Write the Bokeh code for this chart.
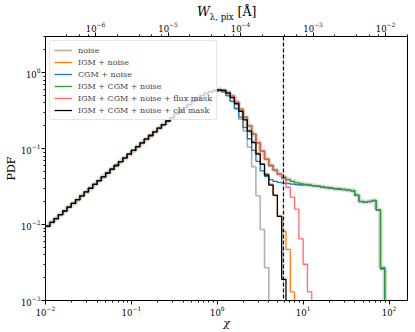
import numpy as np
from bokeh.plotting import figure
from bokeh.layouts import column
from bokeh.models import Range1d, LogScale, LogAxis, Span, Legend, LegendItem, Div
from bokeh.embed import file_html
from bokeh.resources import INLINE

# ---------------- data ----------------
bin_start_dex = -2.0      # first bin edge, log10(chi)
bin_width_dex = 0.05      # bin width in dex
chi_cut = 5.9             # dashed line (chi mask threshold)
x_lo, x_hi = 0.01, 164.0
y_lo, y_hi = 1e-3, 3.0
w_lo, w_hi = 2.04e-7, 2.01e-2   # top axis W_lambda,pix range [A]
floor = 1e-6

# shared rising part (bins k = 0 .. 33)
rise = [0.0095, 0.0107, 0.0120, 0.0135, 0.0151, 0.0170, 0.0190, 0.0213, 0.0239, 0.0269,
        0.0301, 0.0338, 0.0379, 0.0426, 0.0478, 0.0535, 0.0600, 0.0673, 0.0755, 0.0846,
        0.0948, 0.1063, 0.1190, 0.1331, 0.1490, 0.1666, 0.1860, 0.2075, 0.2312, 0.2570,
        0.2850, 0.3152, 0.3473, 0.3808]

peak_igm = [0.42, 0.46, 0.50, 0.535, 0.565, 0.585, 0.595, 0.585]
peak_cgm = [0.42, 0.46, 0.50, 0.53, 0.555, 0.57, 0.575, 0.56]

noise_tail = [0.50, 0.42, 0.33, 0.245, 0.17, 0.105, 0.058, 0.024, 0.0086, 0.0027]
igm_tail = [0.545, 0.48, 0.40, 0.32, 0.245, 0.175, 0.125, 0.088, 0.064, 0.047, 0.034,
            0.024, 0.013, 0.0082, 0.0047, 0.0013]
cgm_tail = [0.50, 0.42, 0.34, 0.26, 0.19, 0.135, 0.095, 0.068, 0.051, 0.043, 0.039, 0.037,
            0.036, 0.0352, 0.0346, 0.034, 0.0336, 0.0332,
            0.0334, 0.0329, 0.0323, 0.0318, 0.0312, 0.0306, 0.0301, 0.0296, 0.0292, 0.0288,
            0.0284, 0.0278, 0.0243, 0.0200, 0.0196, 0.0200, 0.0206, 0.0155, 0.0026]
both_tail = [0.55, 0.49, 0.41, 0.33, 0.26, 0.20, 0.155, 0.12, 0.093, 0.073, 0.06, 0.052,
             0.046, 0.042, 0.039, 0.037, 0.0355, 0.0345,
             0.0338, 0.0332, 0.0326, 0.0320, 0.0314, 0.0308, 0.0303, 0.0298, 0.0294, 0.0290,
             0.0286, 0.0280, 0.0245, 0.0202, 0.0198, 0.0202, 0.0208, 0.0157, 0.0027]
flux_tail = [0.55, 0.49, 0.41, 0.33, 0.26, 0.20, 0.155, 0.12, 0.093, 0.073, 0.06, 0.052,
             0.046, 0.040, 0.031, 0.023, 0.016, 0.0065, 0.003, 0.0013]
chi_tail = [0.54, 0.47, 0.39, 0.31, 0.24, 0.17, 0.12, 0.085, 0.062, 0.045, 0.033, 0.0245,
            0.0128, 0.0019]

labels = ["noise", "IGM + noise", "CGM + noise", "IGM + CGM + noise",
          "IGM + CGM + noise + flux mask", "IGM + CGM + noise + chi mask"]
colors = ["#a8a8a8", "#ff7f0e", "#1f77b4", "#2ca02c", "#ff4d4d", "#000000"]

series = [rise + peak_cgm + noise_tail + [floor],
          rise + peak_igm + igm_tail + [floor],
          rise + peak_cgm + cgm_tail + [floor],
          rise + peak_igm + both_tail + [floor],
          rise + peak_igm + flux_tail + [floor],
          rise + peak_igm + chi_tail + [floor]]

# ---------------- figure ----------------
FONT = "DejaVu Serif"
p = figure(width=412, height=332, x_axis_type="log", y_axis_type="log",
           x_range=Range1d(x_lo, x_hi), y_range=Range1d(y_lo, y_hi),
           output_backend="svg", toolbar_location=None,
           min_border_left=45, min_border_right=5, min_border_top=36, min_border_bottom=0)
p.xgrid.visible = False
p.ygrid.visible = False
p.outline_line_color = "black"
p.outline_line_width = 1
p.background_fill_color = "white"
p.border_fill_alpha = 0.0

p.extra_x_ranges = {"W": Range1d(w_lo, w_hi)}
p.extra_x_scales = {"W": LogScale()}
top = LogAxis(x_range_name="W")
p.add_layout(top, "above")

bottom = p.below[0]
left = p.left[0]
bottom.axis_label = "χ"
bottom.axis_label_text_font_style = "italic"
left.axis_label = "PDF"
left.axis_label_text_font_style = "normal"

for ax in [bottom, left, top]:
    ax.major_tick_out = 4
    ax.major_tick_in = 0
    ax.minor_tick_out = 2
    ax.minor_tick_in = 0
    ax.axis_line_color = "black"
    ax.major_tick_line_color = "black"
    ax.minor_tick_line_color = "black"
    ax.major_label_text_font = FONT
    ax.major_label_text_font_size = "8.5px"
    ax.major_label_text_color = "black"
    ax.major_label_standoff = 1
    ax.axis_label_text_font = FONT
    ax.axis_label_text_font_size = "11px"
    ax.axis_label_text_color = "black"
    ax.axis_label_standoff = 0
bottom.axis_label_standoff = -2

# thick gray halo under the IGM + CGM + noise curve
n = len(series[3])
edges = 10 ** (bin_start_dex + bin_width_dex * np.arange(n))
p.step(edges, series[3], mode="after", line_color="#999999", line_alpha=0.4, line_width=4.5)

items = []
widths = [1.6, 1.3, 1.3, 1.3, 1.3, 1.3]
alphas = [0.9, 1.0, 1.0, 1.0, 0.85, 1.0]
for lab, col, vals, lw, la in zip(labels, colors, series, widths, alphas):
    x = 10 ** (bin_start_dex + bin_width_dex * np.arange(len(vals)))
    r = p.step(x, vals, mode="after", line_color=col, line_width=lw, line_alpha=la)
    items.append(LegendItem(label=lab, renderers=[r]))

p.add_layout(Span(location=chi_cut, dimension="height", line_color="black",
                  line_dash="4 2", line_width=1.2))

legend = Legend(items=items, location="top_left")
legend.label_text_font = FONT
legend.label_text_font_size = "8px"
legend.label_height = 10
legend.glyph_height = 10
legend.glyph_width = 18
legend.spacing = 2
legend.padding = 4
legend.margin = 4
legend.label_standoff = 6
legend.border_line_color = "#cccccc"
legend.border_line_width = 1
legend.border_radius = 3
legend.background_fill_alpha = 0.8
p.add_layout(legend)

# top axis title  W_{lambda, pix} [Å]
title = Div(text='<i>W</i><sub style="font-size:8.5px">λ, pix</sub> [Å]',
            width=412, height=20, margin=(0, 0, -20, 0),
            styles={"font-family": "DejaVu Serif", "font-size": "12.5px",
                    "line-height": "12px", "padding-left": "197px", "padding-top": "6px",
                    "color": "black"})

layout = column(title, p, spacing=0)
open("out.html", "w").write(file_html(layout, INLINE))
